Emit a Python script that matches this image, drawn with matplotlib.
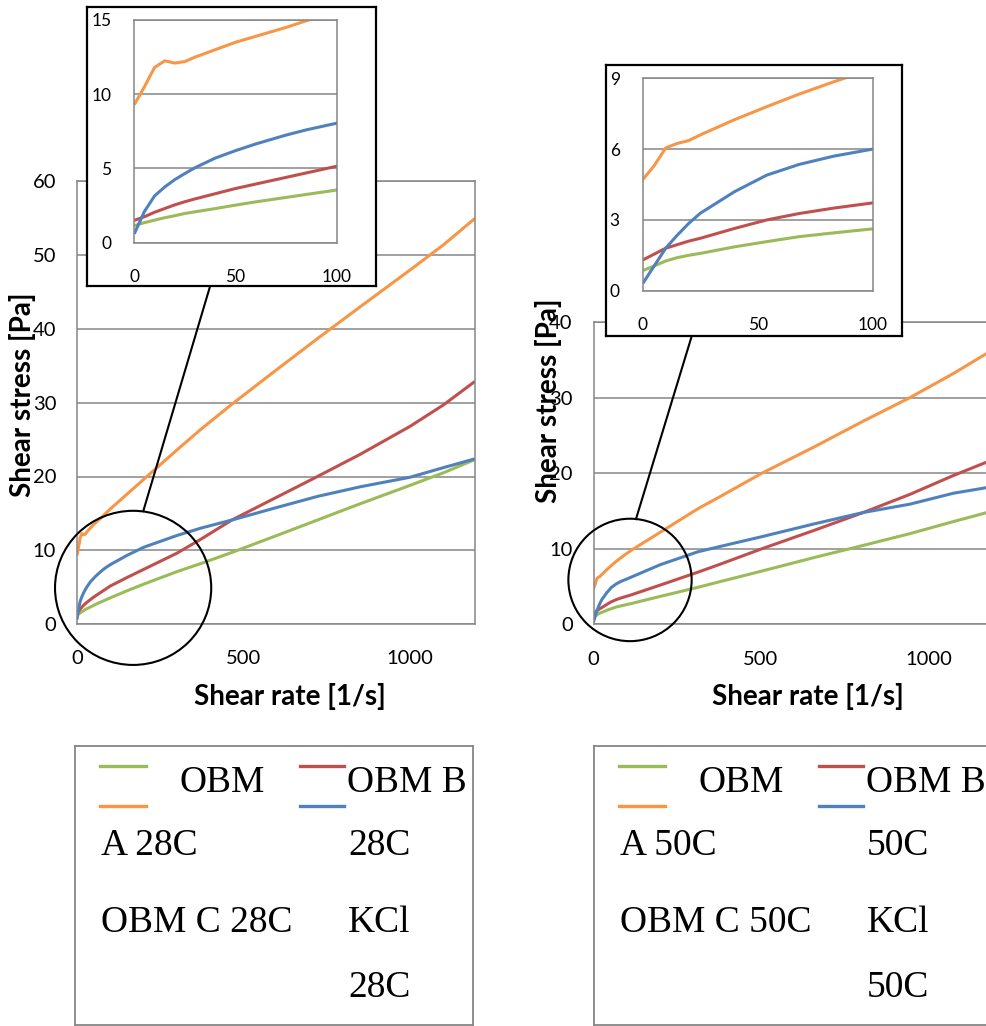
import matplotlib.pyplot as plt
from matplotlib.patches import Ellipse
from matplotlib.lines import Line2D

# Curvas de flujo: esfuerzo de corte [Pa] vs tasa de corte [1/s]
# ---------------------------------------------------------------
# 28C
rate_28 = [0, 5, 10, 15, 20, 25, 30, 40, 50, 60, 75, 85, 100, 150, 200,
           300, 372, 465, 600, 722, 850, 1000, 1100, 1195]
obm_a_28 = [1.15, 1.35, 1.52, 1.68, 1.82, 1.97, 2.08, 2.3, 2.53, 2.75, 3.05, 3.25,
            3.55, 4.5, 5.4, 7.1, 8.2, 9.7, 12.0, 14.1, 16.3, 18.8, 20.5, 22.3]
obm_b_28 = [1.5, 1.75, 2.05, 2.3, 2.55, 2.76, 2.95, 3.3, 3.65, 3.95, 4.4, 4.7,
            5.15, 6.3, 7.4, 9.6, 11.5, 14.1, 17.2, 20.0, 23.0, 26.8, 29.7, 32.9]
obm_c_28 = [9.3, 10.5, 11.8, 12.25, 12.1, 12.2, 12.5, 13.0, 13.5, 13.9, 14.5, 14.95,
            15.6, 17.6, 19.6, 23.6, 26.4, 29.8, 34.5, 38.7, 43.0, 48.0, 51.4, 55.0]
kcl_28 = [0.6, 2.1, 3.15, 3.75, 4.25, 4.66, 5.05, 5.7, 6.2, 6.65, 7.25, 7.6,
          8.05, 9.3, 10.4, 12.0, 13.0, 14.1, 15.8, 17.3, 18.6, 19.9, 21.2, 22.4]

# 50C
rate_50 = [0, 5, 10, 15, 20, 25, 40, 54, 68, 83, 100, 113, 200, 312, 378,
           503, 660, 806, 945, 1075, 1176]
obm_a_50 = [0.85, 1.05, 1.26, 1.4, 1.5, 1.58, 1.86, 2.08, 2.29, 2.45, 2.62, 2.75,
            3.7, 4.9, 5.65, 7.05, 8.85, 10.45, 12.0, 13.6, 14.8]
obm_b_50 = [1.3, 1.55, 1.8, 1.95, 2.1, 2.22, 2.64, 3.0, 3.27, 3.5, 3.72, 3.9,
            5.2, 6.9, 7.95, 10.0, 12.45, 14.8, 17.2, 19.7, 21.5]
obm_c_50 = [4.7, 5.3, 6.05, 6.24, 6.36, 6.6, 7.25, 7.8, 8.33, 8.85, 9.4, 9.8,
            12.2, 15.3, 16.9, 20.0, 23.5, 26.9, 30.0, 33.2, 35.9]
kcl_50 = [0.3, 1.05, 1.8, 2.35, 2.85, 3.28, 4.2, 4.9, 5.35, 5.7, 6.0, 6.25,
          7.9, 9.6, 10.3, 11.6, 13.3, 14.8, 15.9, 17.35, 18.1]

GREEN = '#9BBB59'
RED = '#C0504D'
ORANGE = '#F79646'
BLUE = '#4F81BD'
GRIS = '#868686'

plt.rcParams['font.family'] = ['Lato', 'DejaVu Sans']

W, H = 987, 1026


def rect(x0, y0, x1, y1):
    # caja en pixeles (origen arriba a la izquierda) -> fraccion de figura
    return [x0 / W, 1 - y1 / H, (x1 - x0) / W, (y1 - y0) / H]


def estilo(ax, size, xpad, ypad):
    for s in ax.spines.values():
        s.set_color(GRIS)
        s.set_linewidth(1.1)
    ax.grid(axis='y', color=GRIS, lw=1.1)
    ax.set_axisbelow(True)
    ax.tick_params(length=0, labelsize=size)
    ax.tick_params(axis='x', pad=xpad)
    ax.tick_params(axis='y', pad=ypad)


def curvas(ax, rate, series):
    for tau, color in series:
        ax.plot(rate, tau, color=color, lw=2.2, solid_capstyle='butt')


def panel(temp, rate, series, main_box, ymax, circ, inset_frame, inset_box,
          ymax_i, step_i, conector, dx, ylab_pos, xlab_pos):
    # grafica principal
    ax = fig.add_axes(rect(*main_box))
    curvas(ax, rate, series)
    ax.set_xlim(0, 1195)
    ax.set_ylim(0, ymax)
    ax.set_xticks([0, 500, 1000])
    ax.set_yticks(range(0, ymax + 1, 10))
    estilo(ax, 14.5, 19, 15)
    ax.add_patch(Ellipse(circ[:2], circ[2], circ[3], fill=False, ec='black',
                         lw=1.5, clip_on=False, zorder=5))

    # recuadro con el zoom 0-100 1/s
    axf = fig.add_axes(rect(*inset_frame))
    axf.set_xticks([])
    axf.set_yticks([])
    for s in axf.spines.values():
        s.set_color('black')
        s.set_linewidth(1.6)
    axi = fig.add_axes(rect(*inset_box))
    curvas(axi, rate, series)
    axi.set_xlim(0, 100)
    axi.set_ylim(0, ymax_i)
    axi.set_xticks([0, 50, 100])
    axi.set_yticks(range(0, ymax_i + 1, step_i))
    estilo(axi, 12.5, 19, 16.5)

    (x0, y0), (x1, y1) = conector
    fig.add_artist(Line2D([x0 / W, x1 / W], [1 - y0 / H, 1 - y1 / H],
                          color='black', lw=1.5))

    fig.text(ylab_pos[0] / W, 1 - ylab_pos[1] / H, 'Shear stress [Pa]',
             rotation=90, ha='center', va='center', fontsize=20,
             fontweight='bold')
    fig.text(xlab_pos[0] / W, 1 - xlab_pos[1] / H, 'Shear rate [1/s]',
             ha='center', va='center', fontsize=20, fontweight='bold')

    # leyenda (texto partido en varias lineas)
    axl = fig.add_axes(rect(75 + dx, 745.7, 473 + dx, 1025))
    axl.set_xticks([])
    axl.set_yticks([])
    for s in axl.spines.values():
        s.set_color(GRIS)
        s.set_linewidth(1.3)
    for color, xa, xb, y in [(GREEN, 100, 146, 765.7), (ORANGE, 100, 146, 806),
                             (RED, 300, 344, 765.7), (BLUE, 300, 344, 806)]:
        fig.add_artist(Line2D([(xa + dx) / W, (xb + dx) / W],
                              [1 - y / H, 1 - y / H], color=color, lw=2.4))
    for s, x, y in [('OBM', 180, 791.7), ('A ' + temp, 101, 855),
                    ('OBM C ' + temp, 101, 931.7), ('OBM B', 347, 791.7),
                    (temp, 348, 855), ('KCl', 348, 931.7), (temp, 348, 996.7)]:
        fig.text((x + dx) / W, 1 - y / H, s, fontsize=27, va='baseline',
                 family='Liberation Serif')


fig = plt.figure(figsize=(W / 100, H / 100), dpi=100)

panel('28C', rate_28,
      [(obm_a_28, GREEN), (obm_b_28, RED), (obm_c_28, ORANGE), (kcl_28, BLUE)],
      (77, 181.5, 475, 624), 60, (168.5, 4.9, 469, 20.9),
      (87, 6.7, 376, 286), (134.3, 20, 336.7, 242.7), 15, 5,
      ((210, 286.5), (143.3, 511)), 0, (23, 395), (290, 697))

panel('50C', rate_50,
      [(obm_a_50, GREEN), (obm_b_50, RED), (obm_c_50, ORANGE), (kcl_50, BLUE)],
      (593.5, 322, 993.8, 624.3), 40, (109, 5.87, 368, 16.2),
      (606.5, 65, 901.5, 336), (642.7, 78.3, 872.7, 290.7), 9, 3,
      ((691.7, 336.2), (636, 519)), 519, (548, 401), (808, 697))

fig.savefig('out.png', dpi=100)
